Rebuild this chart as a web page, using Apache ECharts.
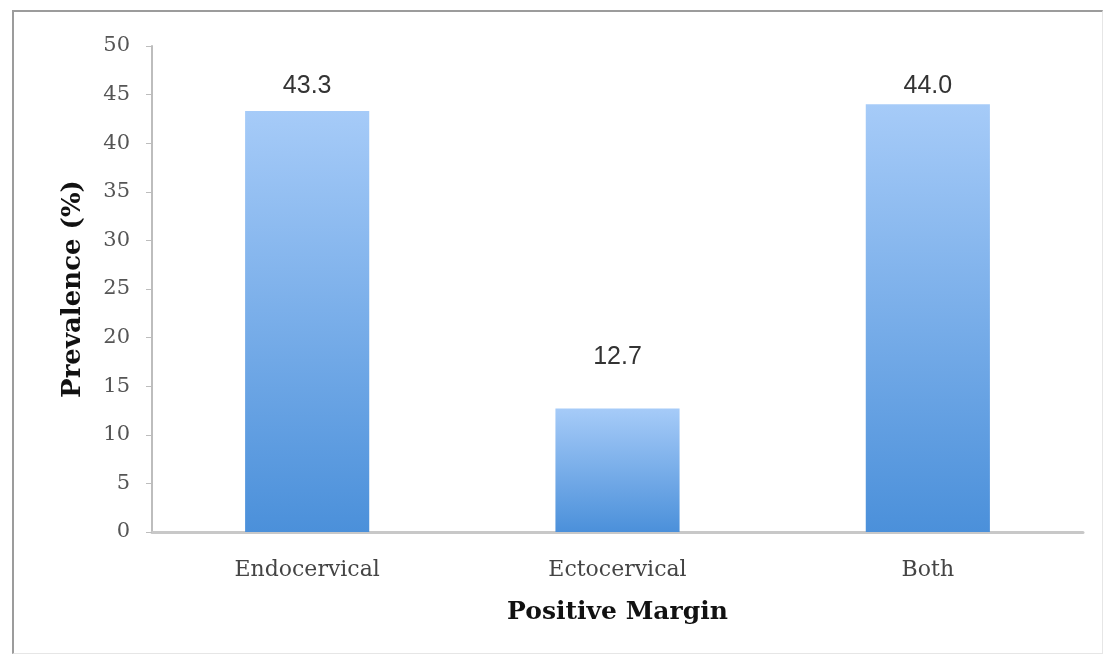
<!DOCTYPE html>
<html>
<head>
<meta charset="utf-8">
<script src="https://cdn.jsdelivr.net/npm/echarts@6/dist/echarts.min.js"></script>
<style>
  html, body { margin: 0; padding: 0; background: #fff; }
  #wrap { position: relative; width: 1110px; height: 662px; }
  #frame {
    position: absolute; left: 12px; top: 10px; width: 1088px; height: 641px;
    border-top: 2px solid #9c9c9c; border-left: 2px solid #9c9c9c;
    border-right: 1px solid #e6e6e6; border-bottom: 1px solid #e6e6e6;
  }
  #chart { position: absolute; left: 0; top: 0; width: 1110px; height: 662px; }
</style>
</head>
<body>
<div id="wrap">
  <div id="frame"></div>
  <div id="chart"></div>
</div>
<script>
const categories = ['Endocervical', 'Ectocervical', 'Both'];
const prevalence = [43.3, 12.7, 44.0];

// label gap above each bar (the source places them by hand)
const labelGap = [13, 39, 6];

const serif = '"DejaVu Serif", "Liberation Serif", serif';

const chart = echarts.init(document.getElementById('chart'));
chart.setOption({
  animation: false,
  grid: { left: 152, right: 27, top: 46, bottom: 130 },
  xAxis: {
    type: 'category',
    data: categories,
    name: 'Positive Margin',
    nameLocation: 'middle',
    nameGap: 68,
    nameTextStyle: { fontFamily: serif, fontWeight: 'bold', fontSize: 25, color: '#111' },
    axisLine: { lineStyle: { color: '#c8c8c8', width: 3 } },
    axisTick: { show: false },
    axisLabel: { fontFamily: serif, fontSize: 22, color: '#444', margin: 27 }
  },
  yAxis: {
    type: 'value',
    min: 0,
    max: 50,
    interval: 5,
    name: 'Prevalence (%)',
    nameLocation: 'middle',
    nameGap: 66,
    nameTextStyle: { fontFamily: serif, fontWeight: 'bold', fontSize: 26, color: '#111' },
    axisLine: { show: true, lineStyle: { color: '#bdbdbd', width: 2 } },
    axisTick: { show: true, length: 6, lineStyle: { color: '#bdbdbd', width: 1 } },
    axisLabel: { fontFamily: serif, fontSize: 21, color: '#555', margin: 22 },
    splitLine: { show: false }
  },
  series: [{
    type: 'bar',
    barWidth: '40%',
    data: prevalence.map((v, i) => ({ value: v, label: { distance: labelGap[i] } })),
    itemStyle: {
      color: new echarts.graphic.LinearGradient(0, 0, 0, 1, [
        { offset: 0, color: '#a6cbf8' },
        { offset: 1, color: '#4b90da' }
      ])
    },
    label: {
      show: true,
      position: 'top',
      formatter: p => p.value.toFixed(1),
      fontFamily: '"Liberation Sans", Arial, sans-serif',
      fontSize: 25,
      color: '#333'
    }
  }]
});
</script>
</body>
</html>
